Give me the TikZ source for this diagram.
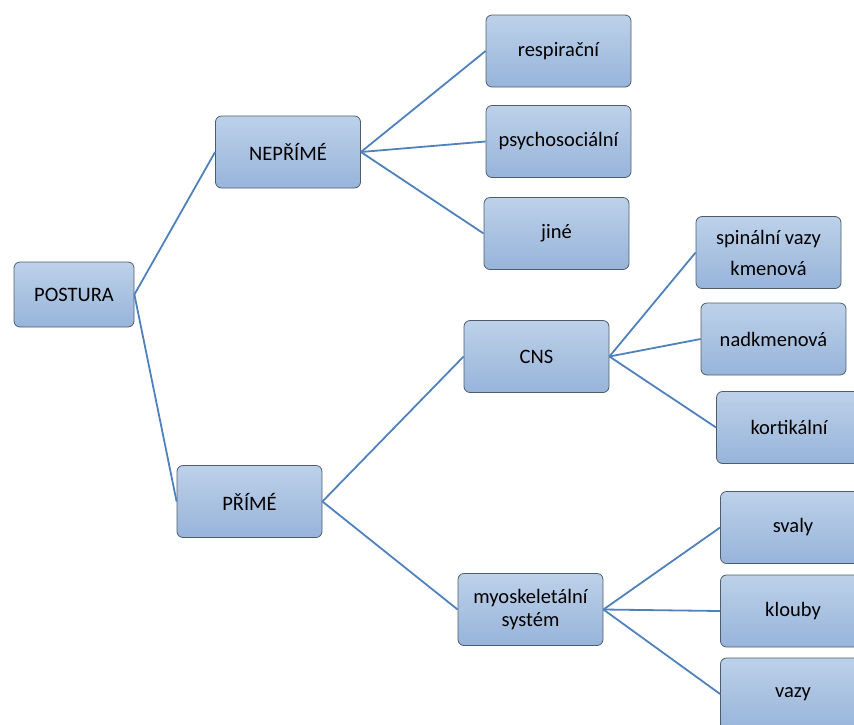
\documentclass[tikz,border=0pt]{standalone}
\usepackage{fontspec}
\setmainfont{Carlito}
\usepackage{xcolor}
\usepackage{tikz}
\definecolor{boxtop}{HTML}{BDD1E9}
\definecolor{boxbottom}{HTML}{97B4DA}
\definecolor{boxline}{HTML}{4E5D6C}
\definecolor{linkblue}{HTML}{4F81BD}

\begin{document}
\begin{tikzpicture}[
    x=1pt, y=-1pt,
    tree_box/.style={rectangle, draw=boxline, line width=0.8pt, top color=boxtop, bottom color=boxbottom, rounded corners=6pt, minimum width=145pt, minimum height=72pt, inner sep=2pt, align=center, font=\fontsize{20.5}{23}\selectfont},
    link/.style={linkblue, line width=1.8pt}
]
\useasboundingbox (0,0) rectangle (854,724);
\clip (0,0) rectangle (854,724);

% Root
\node[tree_box, minimum width=120pt, minimum height=65pt] (postura) at (74,294.5) {POSTURA};

% Level 1
\node[tree_box] (neprime) at (288,152) {NEPŘÍMÉ};
\node[tree_box] (prime) at (249.5,501.5) {PŘÍMÉ};

% Level 2
\node[tree_box] (resp) at (558.5,51) {respirační};
\node[tree_box] (psycho) at (558.5,141.5) {psychosociální};
\node[tree_box] (jine) at (556.5,233.5) {jiné};
\node[tree_box] (cns) at (536.5,356.5) {CNS};
\node[tree_box] (myo) at (530.5,609.5) {myoskeletální\\systém};

% Level 3
\node[tree_box] (spinal) at (768.5,252.5) {spinální vazy\\[8pt]kmenová};
\node[tree_box] (nadkmen) at (773.5,339) {nadkmenová};
\node[tree_box] (kortik) at (789,427.5) {kortikální};
\node[tree_box] (svaly) at (793,527.5) {svaly};
\node[tree_box] (klouby) at (793,611) {klouby};
\node[tree_box] (vazy) at (793,694) {vazy};

% Connections
\draw[link] (postura.east) -- (neprime.west);
\draw[link] (postura.east) -- (prime.west);
\draw[link] (neprime.east) -- (resp.west);
\draw[link] (neprime.east) -- (psycho.west);
\draw[link] (neprime.east) -- (jine.west);
\draw[link] (prime.east) -- (cns.west);
\draw[link] (prime.east) -- (myo.west);
\draw[link] (cns.east) -- (spinal.west);
\draw[link] (cns.east) -- (nadkmen.west);
\draw[link] (cns.east) -- (kortik.west);
\draw[link] (myo.east) -- (svaly.west);
\draw[link] (myo.east) -- (klouby.west);
\draw[link] (myo.east) -- (vazy.west);

\end{tikzpicture}
\end{document}
